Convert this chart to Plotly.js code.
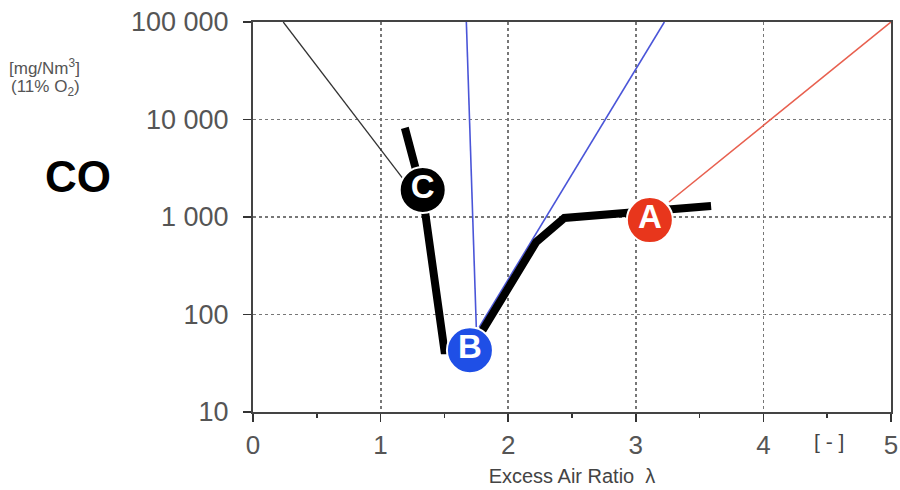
<!DOCTYPE html>
<html>
<head>
<meta charset="utf-8">
<script src="https://cdn.plot.ly/plotly-3.0.1.min.js"></script>
<style>html,body{margin:0;padding:0;background:#fff;}#chart{width:900px;height:490px;}</style>
</head>
<body>
<div id="chart"></div>
<script>
// Thick black CO curve
var curveX = [1.19, 1.33, 1.5, 1.7, 1.8, 2.22, 2.44, 3.59];
var curveY = [8200, 1680, 43, 43, 69, 555, 977, 1300];
// Labelled operating points
var pointLabels = ["A", "B", "C"];
var pointX = [3.11, 1.70, 1.33];
var pointY = [930, 43, 1890];
var pointColors = ["#e8361c", "#1f4fe6", "#000000"];
// Thin guide lines
var guideCX = [0.237, 1.172];
var guideCY = [100000, 2510];
var guideB1X = [1.672, 1.75];
var guideB1Y = [100000, 74];
var guideB2X = [3.224, 1.773];
var guideB2Y = [100000, 74];
var guideAX = [3.26, 5];
var guideAY = [1425, 100000];
// Axis ticks
var yTickVals = [10, 100, 1000, 10000, 100000];
var yTickText = ["10", "100", "1 000", "10 000", "100 000"];
var xTickVals = [0, 1, 2, 3, 4, 5];
var yMinorVals = [];
for (var d = 0; d < yTickVals.length - 1; d++) {
  for (var m = 2; m <= 9; m++) { yMinorVals.push(yTickVals[d] * m); }
}

var traces = [
  {x: guideCX, y: guideCY, mode: "lines", line: {color: "#333333", width: 1.3}, hoverinfo: "skip"},
  {x: guideB1X, y: guideB1Y, mode: "lines", line: {color: "#4a55d8", width: 1.6}, hoverinfo: "skip"},
  {x: guideB2X, y: guideB2Y, mode: "lines", line: {color: "#4a55d8", width: 1.6}, hoverinfo: "skip"},
  {x: guideAX, y: guideAY, mode: "lines", line: {color: "#e8604f", width: 1.6}, hoverinfo: "skip"},
  {x: curveX, y: curveY, mode: "lines", line: {color: "#000000", width: 8, shape: "linear"}, hoverinfo: "skip"},
  {x: pointX, y: pointY, mode: "markers+text", text: pointLabels, textposition: "middle center",
   textfont: {family: "Liberation Sans, Arial, sans-serif", size: 33, color: "#ffffff", weight: "bold"},
   marker: {size: 46, color: pointColors, line: {color: "#ffffff", width: 2}}, cliponaxis: false, hoverinfo: "skip"},
  // minor tick marks of the log axis, drawn as short horizontal line markers at the axis
  {x: yMinorVals.map(function () { return -0.022; }), y: yMinorVals, mode: "markers", cliponaxis: false,
   marker: {symbol: "line-ew", size: 6, color: "#333", line: {color: "#333", width: 1.3}}, hoverinfo: "skip"}
];

var layout = {
  width: 900, height: 490,
  margin: {l: 253, r: 9, t: 22, b: 78},
  paper_bgcolor: "#ffffff", plot_bgcolor: "#ffffff",
  showlegend: false,
  font: {family: "Liberation Sans, Arial, sans-serif", color: "#444444"},
  xaxis: {
    range: [0, 5], tickvals: xTickVals, ticks: "outside", ticklen: 8, tickwidth: 1.5, tickcolor: "#333",
    showline: true, linecolor: "#444", linewidth: 2, mirror: true,
    showgrid: true, gridcolor: "#777777", gridwidth: 1.8, griddash: "dot",
    tickfont: {size: 26, color: "#555555"}, ticklabelstandoff: 1,
    minor: {dtick: 0.5, ticks: "outside", ticklen: 4, tickcolor: "#333", showgrid: false},
    zeroline: false,
    title: {text: "Excess Air Ratio  \u03bb", font: {size: 20, color: "#444444"}, standoff: 10}
  },
  yaxis: {
    type: "log", range: [1, 5], tickvals: yTickVals, ticktext: yTickText,
    ticks: "outside", ticklen: 8, tickwidth: 1.5, tickcolor: "#333",
    showline: true, linecolor: "#444", linewidth: 2, mirror: true,
    showgrid: true, gridcolor: "#777777", gridwidth: 1.8, griddash: "dot",
    tickfont: {size: 27, color: "#555555"}, ticklabelstandoff: 9,
    zeroline: false
  },
  annotations: [
    {xref: "paper", yref: "paper", x: 0.903, y: -0.075, text: "[ - ]", showarrow: false,
     font: {size: 21, color: "#444"}, xanchor: "center", yanchor: "middle"},
    {xref: "paper", yref: "paper", x: -0.275, y: 0.605, text: "<b>CO</b>", showarrow: false,
     font: {size: 44, color: "#000"}, xanchor: "center", yanchor: "middle"},
    {xref: "paper", yref: "paper", x: -0.385, y: 0.885, text: "[mg/Nm<sup>3</sup>]", showarrow: false,
     font: {size: 17, color: "#555"}, xanchor: "left", yanchor: "middle"},
    {xref: "paper", yref: "paper", x: -0.383, y: 0.83, text: "(11% O<sub>2</sub>)", showarrow: false,
     font: {size: 17, color: "#555"}, xanchor: "left", yanchor: "middle"}
  ]
};

Plotly.newPlot("chart", traces, layout, {staticPlot: true});
</script>
</body>
</html>
